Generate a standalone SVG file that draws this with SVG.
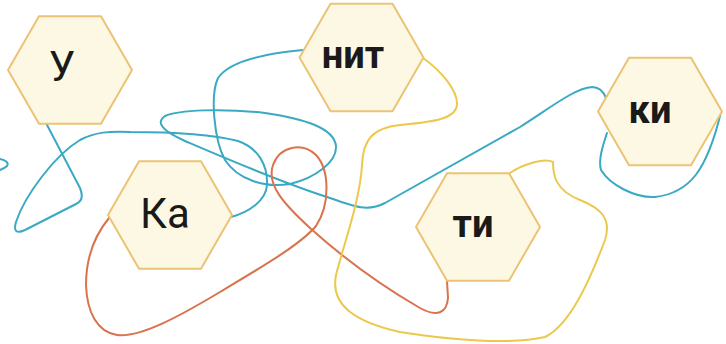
<svg xmlns="http://www.w3.org/2000/svg" xmlns:xlink="http://www.w3.org/1999/xlink" width="726" height="344" viewBox="0 0 726 344">
<style>
.hex{fill:#fdf8e3;stroke:#ecc374;stroke-width:2;stroke-linejoin:round}
.lbl{font-family:Roboto,"Liberation Sans",sans-serif;fill:#1a1a1a;text-anchor:middle}
.reg{font-size:42px;font-weight:400}
.bold{font-size:38px;font-weight:700}
.ln{fill:none;stroke-width:2;stroke-linecap:round;stroke-linejoin:round}
.blue{stroke:#3aa9c3}
.orange{stroke:#d9734e}
.yellow{stroke:#ebc94c}
</style>
<defs>
<polygon id="hx" points="-62,0 -31,-53.7 31,-53.7 62,0 31,53.7 -31,53.7"/>
</defs>
<rect width="726" height="344" fill="#ffffff"/>
<g id="connectors">
<path class="ln blue" d="M46,123 L80,188 Q85,200 76,204 L25,230 Q12,236 16,222 C25,195 55,155 80,140 C95,132 110,131 130,132 C170,132 210,134 238,141 C258,148 268,165 267,185 C266,200 250,212 231,217"/>
<path class="ln blue" d="M303,50 C270,53 230,60 218,78 C210,95 214,140 225,160 C238,180 265,188 290,184 C315,178 337,162 336,146 C334,128 305,119 265,113 C222,108 178,110 165,116 C155,123 163,131 185,141 C220,156 280,182 330,198 C355,207 368,212 385,203 C420,183 470,155 520,127 C550,108 575,88 592,87 C600,87 604,93 606,98"/>
<path class="ln blue" d="M607,133 C603,145 598,160 601,170 C610,185 635,198 655,197 C690,193 707,170 721,112"/>
<path class="ln blue" d="M0,159 C6,160 9,163 7,166 C5,168 2,169 0,170"/>
<path class="ln orange" d="M109,218 C95,235 86,255 86,285 C87,312 97,332 117,335 C140,338 180,316 220,292 C260,268 300,245 316,226 C330,205 330,170 316,155 C302,142 280,146 273,165 C266,185 285,205 310,228 C340,255 380,285 420,308 C438,318 447,312 448,298 L447,281"/>
<path class="ln yellow" d="M423,58 C440,70 458,90 457,105 C455,120 430,122 400,125 C372,128 363,140 362,165 C360,200 345,240 336,275 C330,305 355,322 400,332 C450,340 510,345 545,337 C570,325 590,280 605,240 C612,218 600,208 580,200 C555,190 553,175 553,162 C545,158 525,163 510,173"/>
</g>
<g id="node-u">
<use xlink:href="#hx" class="hex" x="70" y="70"/>
<text class="lbl reg" x="62" y="81">У</text>
</g>
<g id="node-nit">
<use xlink:href="#hx" class="hex" x="361.5" y="57.5"/>
<text class="lbl bold" x="353" y="68">нит</text>
</g>
<g id="node-ki">
<use xlink:href="#hx" class="hex" x="660" y="111.5"/>
<text class="lbl bold" x="650" y="123">ки</text>
</g>
<g id="node-ka">
<use xlink:href="#hx" class="hex" x="170" y="215"/>
<text class="lbl reg" x="165" y="228">Ка</text>
</g>
<g id="node-ti">
<use xlink:href="#hx" class="hex" x="478" y="227"/>
<text class="lbl bold" x="473" y="237">ти</text>
</g>
</svg>
